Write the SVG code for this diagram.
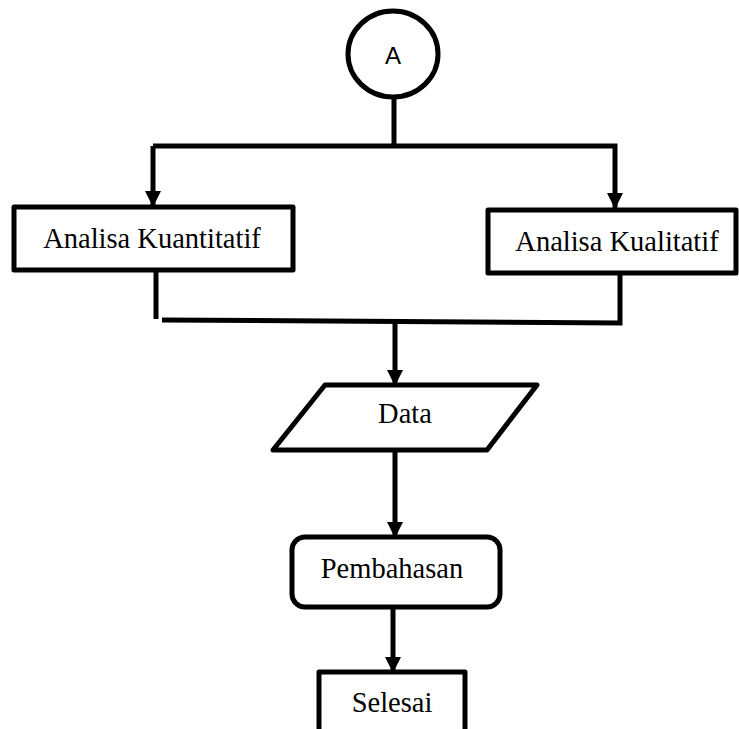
<svg xmlns="http://www.w3.org/2000/svg" width="739" height="729" viewBox="0 0 739 729">
<defs>
<style>
.shape{fill:#fff;stroke:#000;stroke-width:5;stroke-linejoin:round}
.ln{fill:none;stroke:#000;stroke-width:5}
.t{font-family:"Liberation Serif","Times New Roman",serif;font-size:28.5px;fill:#000;text-anchor:middle}
.ts{font-family:"Liberation Sans",Arial,sans-serif;font-size:24px;fill:#000;text-anchor:middle}
</style>
<marker id="arr" viewBox="0 0 16 16" refX="15" refY="8" markerWidth="16" markerHeight="16" markerUnits="userSpaceOnUse" orient="auto">
<path d="M0,0 L16,8 L0,16 Z" fill="#000"/>
</marker>
</defs>
<g id="connectors">
<line class="ln" x1="394" y1="98" x2="394" y2="147"/>
<path class="ln" d="M153,146 H615 V208" marker-end="url(#arr)"/>
<path class="ln" d="M153,146 V206" marker-end="url(#arr)"/>
<line class="ln" x1="156" y1="270" x2="156" y2="319"/>
<polyline class="ln" points="162,320 620,323 620,273"/>
<path class="ln" d="M395,321 V385" marker-end="url(#arr)"/>
<path class="ln" d="M395,450 V537" marker-end="url(#arr)"/>
<path class="ln" d="M393,607 V672" marker-end="url(#arr)"/>
</g>
<g id="node-a">
<ellipse class="shape" cx="393" cy="54" rx="45" ry="43"/>
<text class="ts" x="393" y="64">A</text>
</g>
<g id="node-kuantitatif">
<rect class="shape" x="14" y="207" width="279" height="63"/>
<text class="t" x="152" y="248">Analisa Kuantitatif</text>
</g>
<g id="node-kualitatif">
<rect class="shape" x="488" y="210" width="248" height="63"/>
<text class="t" x="617" y="251">Analisa Kualitatif</text>
</g>
<g id="node-data">
<polygon class="shape" points="325,385 537,385 487,450 273,450"/>
<text class="t" x="405" y="423">Data</text>
</g>
<g id="node-pembahasan">
<rect class="shape" x="292" y="537" width="208" height="70" rx="13"/>
<text class="t" x="392" y="578">Pembahasan</text>
</g>
<g id="node-selesai">
<rect class="shape" x="319" y="672" width="146" height="70"/>
<text class="t" x="392" y="712">Selesai</text>
</g>
</svg>
